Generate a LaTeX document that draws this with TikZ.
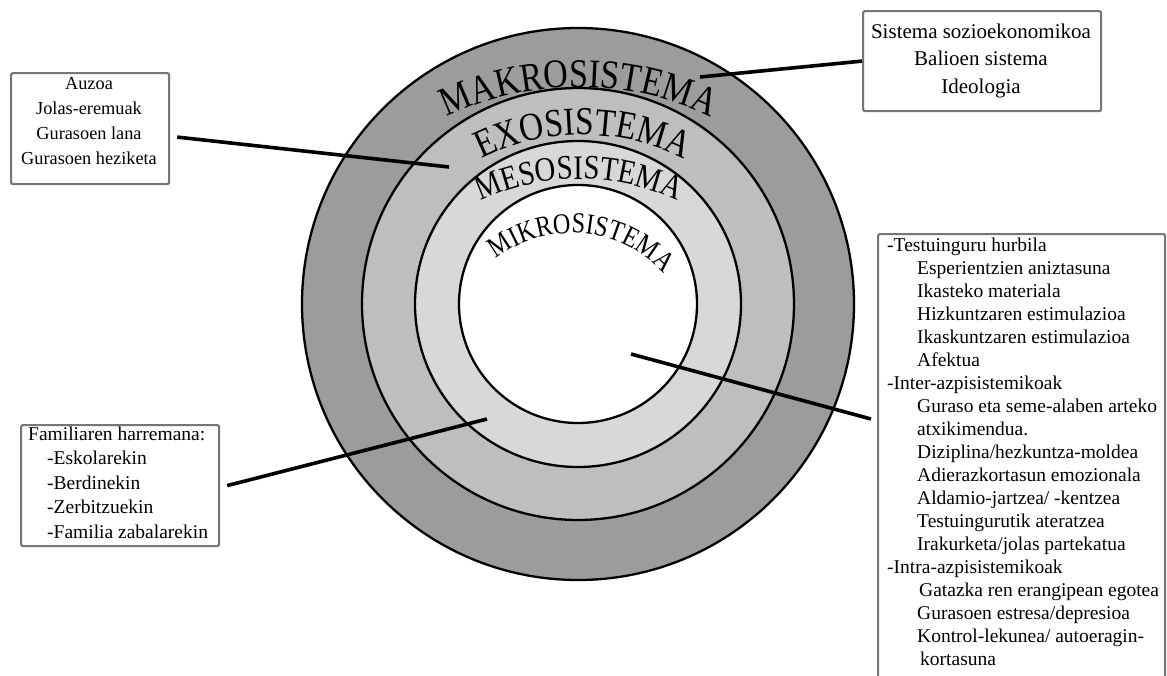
\documentclass[tikz,border=0pt]{standalone}
\usepackage{fontspec}
\setmainfont{Liberation Serif}
\newfontfamily\ringfont[FakeStretch=0.84]{Liberation Serif}
\usetikzlibrary{decorations.text,calc}

\definecolor{makroGray}{RGB}{156,156,156}
\definecolor{exoGray}{RGB}{190,190,190}
\definecolor{mesoGray}{RGB}{216,216,216}
\definecolor{frameGray}{RGB}{118,118,118}

\tikzset{
  ringline/.style={draw=black, line width=2.3pt},
  framebox/.style={draw=frameGray, line width=2.2pt, rounded corners=2pt, fill=white, inner sep=0pt},
  boxtext/.style={inner sep=0pt, text=black},
  link/.style={draw=black, line width=3.6pt},
}

\begin{document}
\begin{tikzpicture}[x=1pt, y=1pt]
\useasboundingbox (0,0) rectangle (1167,-675);
\fill[white] (0,0) rectangle (1167,-675);
\clip (0,0) rectangle (1167,-675);

% nested system rings
\coordinate (C) at (578,-304);
\draw[ringline, fill=makroGray] (C) circle[radius=276pt];
\draw[ringline, fill=exoGray]   (C) circle[radius=216pt];
\draw[ringline, fill=mesoGray]  (C) circle[radius=163pt];
\draw[ringline, fill=white]     (C) circle[radius=119pt];

% arched ring titles
\coordinate (makroArc) at (579,-393);
\coordinate (exoArc)   at (583,-360);
\coordinate (mesoArc)  at (579,-410);
\coordinate (mikroArc) at (572,-356);

\path[decorate, decoration={text along path, text align=center,
    text={|\ringfont\fontsize{40.7}{40.7}\selectfont|MAKROSISTEMA}}]
  ($(makroArc)+(125:306pt)$) arc[start angle=125, end angle=55, radius=306pt];
\path[decorate, decoration={text along path, text align=center,
    text={|\ringfont\fontsize{39.6}{39.6}\selectfont|EXOSISTEMA}}]
  ($(exoArc)+(135:225pt)$) arc[start angle=135, end angle=45, radius=225pt];
\path[decorate, decoration={text along path, text align=center,
    text={|\ringfont\fontsize{34.3}{34.3}\selectfont|MESOSISTEMA}}]
  ($(mesoArc)+(130:231pt)$) arc[start angle=130, end angle=50, radius=231pt];
\path[decorate, decoration={text along path, text align=center,
    text={|\ringfont\fontsize{29}{29}\selectfont|MIKROSISTEMA}}]
  ($(mikroArc)+(150:123pt)$) arc[start angle=150, end angle=20, radius=123pt];

% macrosystem box
\node[framebox, minimum width=238pt, minimum height=100pt, anchor=north west] (sysbox) at (862,-10) {};
\node[boxtext, align=center, font=\fontsize{21}{27.5}\selectfont, anchor=north] (systext) at (981,-23.7)
  {Sistema sozioekonomikoa\\Balioen sistema\\Ideologia};

% exosystem box
\node[framebox, minimum width=158pt, minimum height=111pt, anchor=north west] (envbox) at (10,-72) {};
\node[boxtext, align=center, font=\fontsize{18.3}{25}\selectfont, anchor=north] (envtext) at (89,-77.7)
  {Auzoa\\Jolas-eremuak\\Gurasoen lana\\Gurasoen heziketa};

% mesosystem box
\node[framebox, minimum width=198pt, minimum height=121pt, anchor=north west] (relbox) at (20,-424) {};
\node[boxtext, align=left, font=\fontsize{19.5}{24.5}\selectfont, anchor=north west] (reltext) at (28,-426.7)
  {Familiaren harremana:\\
   \hspace*{19pt}-Eskolarekin\\
   \hspace*{19pt}-Berdinekin\\
   \hspace*{19pt}-Zerbitzuekin\\
   \hspace*{19pt}-Familia zabalarekin};

% microsystem box
\node[framebox, minimum width=287pt, minimum height=470pt, anchor=north west] (detailbox) at (877,-233) {};
\node[boxtext, align=left, font=\fontsize{19.5}{23}\selectfont, anchor=north west] (detailtext) at (887,-237.7)
  {-Testuinguru hurbila\\
   \hspace*{30pt}Esperientzien aniztasuna\\
   \hspace*{30pt}Ikasteko materiala\\
   \hspace*{30pt}Hizkuntzaren estimulazioa\\
   \hspace*{30pt}Ikaskuntzaren estimulazioa\\
   \hspace*{30pt}Afektua\\
   -Inter-azpisistemikoak\\
   \hspace*{30pt}Guraso eta seme-alaben arteko\\
   \hspace*{30pt}atxikimendua.\\
   \hspace*{30pt}Diziplina/hezkuntza-moldea\\
   \hspace*{30pt}Adierazkortasun emozionala\\
   \hspace*{30pt}Aldamio-jartzea/ -kentzea\\
   \hspace*{30pt}Testuingurutik ateratzea\\
   \hspace*{30pt}Irakurketa/jolas partekatua\\
   -Intra-azpisistemikoak\\
   \hspace*{32pt}Gatazka ren erangipean egotea\\
   \hspace*{30pt}Gurasoen estresa/depresioa\\
   \hspace*{30pt}Kontrol-lekunea/ autoeragin-\\
   \hspace*{33pt}kortasuna};

% pointers from the boxes into the rings
\coordinate (makroPt) at (700,-77);
\coordinate (exoPt)   at (449,-167);
\coordinate (mesoPt)  at (487,-419);
\coordinate (mikroPt) at (631,-354);
\coordinate (detailPt) at (871,-419);

\draw[link] (sysbox.west) -- (makroPt);
\draw[link] ([xshift=7pt,yshift=-8.5pt]envbox.east) -- (exoPt);
\draw[link] ([xshift=7pt]relbox.east) -- (mesoPt);
\draw[link] (mikroPt) -- (detailPt);
\end{tikzpicture}
\end{document}
